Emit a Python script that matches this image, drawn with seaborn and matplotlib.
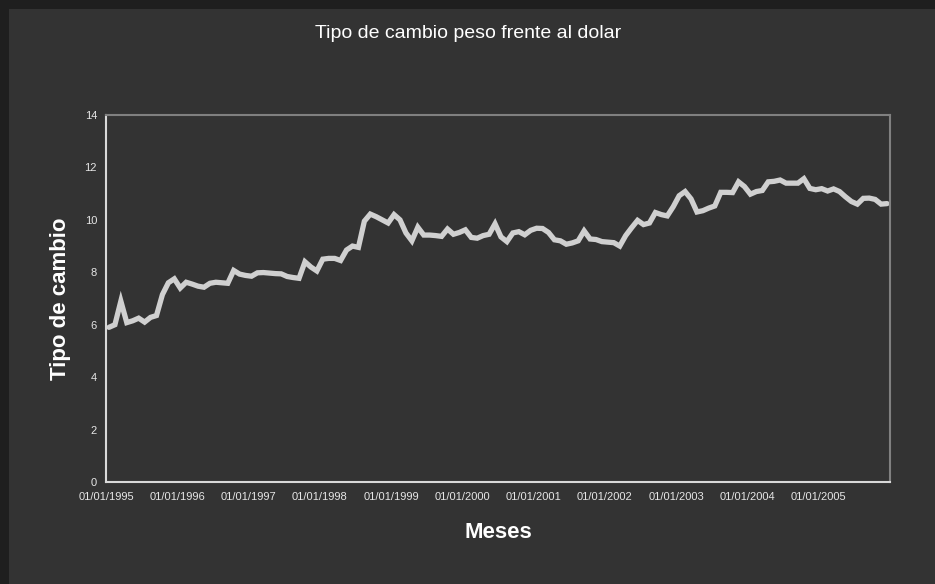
import matplotlib
matplotlib.use("Agg")
import matplotlib.pyplot as plt
import matplotlib.patches as mpatches
import seaborn as sns
import pandas as pd
import numpy as np

title = "Tipo de cambio peso frente al dolar"
x_label = "Meses"
y_label = "Tipo de cambio"
tick_labels = ["01/01/1995", "01/01/1996", "01/01/1997", "01/01/1998", "01/01/1999",
               "01/01/2000", "01/01/2001", "01/01/2002", "01/01/2003", "01/01/2004",
               "01/01/2005", ""]
y_ticks = [0, 2, 4, 6, 8, 10, 12, 14]

rate_1995 = [5.90, 6.00, 6.90, 6.08, 6.15, 6.25, 6.10, 6.28, 6.35, 7.15, 7.60, 7.75]
rate_1996 = [7.40, 7.62, 7.55, 7.47, 7.43, 7.58, 7.62, 7.60, 7.58, 8.07, 7.93, 7.88]
rate_1997 = [7.85, 7.98, 7.99, 7.97, 7.95, 7.94, 7.84, 7.80, 7.77, 8.40, 8.20, 8.05]
rate_1998 = [8.50, 8.53, 8.53, 8.45, 8.85, 9.00, 8.95, 9.95, 10.22, 10.12, 10.00, 9.88]
rate_1999 = [10.20, 10.00, 9.50, 9.20, 9.72, 9.42, 9.42, 9.40, 9.37, 9.65, 9.45, 9.52]
rate_2000 = [9.62, 9.33, 9.30, 9.40, 9.45, 9.85, 9.35, 9.17, 9.50, 9.55, 9.43, 9.60]
rate_2001 = [9.68, 9.67, 9.52, 9.24, 9.20, 9.07, 9.12, 9.20, 9.58, 9.27, 9.25, 9.17]
rate_2002 = [9.15, 9.13, 9.00, 9.40, 9.70, 9.98, 9.82, 9.88, 10.28, 10.20, 10.15, 10.50]
rate_2003 = [10.92, 11.08, 10.80, 10.30, 10.35, 10.45, 10.53, 11.05, 11.05, 11.04, 11.45, 11.27]
rate_2004 = [10.98, 11.08, 11.12, 11.45, 11.47, 11.52, 11.40, 11.40, 11.40, 11.57, 11.20, 11.15]
rate_2005 = [11.19, 11.10, 11.18, 11.08, 10.88, 10.70, 10.60, 10.82, 10.83, 10.78, 10.60, 10.62]

rates = (rate_1995 + rate_1996 + rate_1997 + rate_1998 + rate_1999 + rate_2000 +
         rate_2001 + rate_2002 + rate_2003 + rate_2004 + rate_2005)
df = pd.DataFrame({"mes": np.arange(len(rates)), "tipo": rates})

BG = "#333333"
TXT = "#e6e6e6"

sns.set_theme(style="white", rc={
    "axes.facecolor": BG,
    "figure.facecolor": BG,
})
plt.rcParams["font.family"] = ["Liberation Sans", "DejaVu Sans"]

fig = plt.figure(figsize=(9.35, 5.84), dpi=100)
fig.patch.set_facecolor("#1f1f1f")
fig.patches.append(mpatches.Rectangle((9 / 935, 0), 1 - 9 / 935, 1 - 9 / 584,
                                      transform=fig.transFigure, facecolor=BG,
                                      edgecolor="none", zorder=-10))

ax = fig.add_axes([106 / 935, 1 - 482 / 584, (890 - 106) / 935, (482 - 115) / 584])
ax.set_facecolor(BG)
ax.set_zorder(1)

sns.lineplot(data=df, x="mes", y="tipo", ax=ax, color="#d0d0d0", linewidth=3.8,
             solid_joinstyle="miter")

n = len(rates)
ax.set_xlim(-0.5, n - 0.5)
ax.set_ylim(0, 14)
ax.set_xticks([-0.5 + 12 * k for k in range(len(tick_labels))])
ax.set_xticklabels(tick_labels)
ax.set_yticks(y_ticks)
ax.set_yticklabels([str(v) for v in y_ticks])

ax.tick_params(axis="both", which="both", colors="#d9d9d9", labelcolor=TXT,
               labelsize=8, length=3.5, width=1.2, direction="out", pad=3)
ax.tick_params(axis="x", pad=4)

for side in ["top", "right"]:
    ax.spines[side].set_color("#808080")
    ax.spines[side].set_linewidth(1.5)
for side in ["left", "bottom"]:
    ax.spines[side].set_color("#d9d9d9")
    ax.spines[side].set_linewidth(1.5)
    ax.spines[side].set_visible(True)

ax.set_xlabel(x_label, fontsize=16, fontweight="bold", color="white", labelpad=14)
ax.set_ylabel(y_label, fontsize=16, fontweight="bold", color="white", labelpad=9.5)

fig.text(468 / 935, 1 - 33 / 584, title, ha="center",
         va="center", fontsize=14, color="white")

fig.savefig("out.png", dpi=100, facecolor=fig.get_facecolor())
